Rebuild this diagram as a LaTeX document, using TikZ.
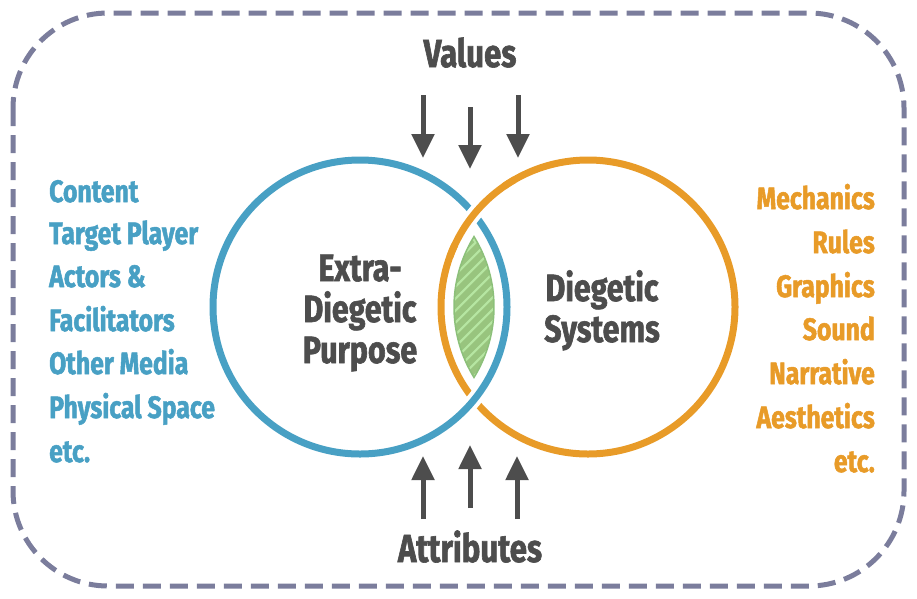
\documentclass[tikz,border=0pt]{standalone}
\usepackage{fontspec}
\setmainfont{Fira Sans}[FakeStretch=0.8, BoldFeatures={FakeBold=1.6}]
\usetikzlibrary{arrows.meta}
\definecolor{cblue}{HTML}{48A0C4}
\definecolor{corange}{HTML}{E89B28}
\definecolor{cgreenL}{HTML}{B6E6A2}
\definecolor{cgreenD}{HTML}{98C47E}
\definecolor{cgreenB}{HTML}{8CC07A}
\definecolor{cgray}{HTML}{4D4D4D}
\definecolor{cdash}{HTML}{7B7D9C}
\newcommand\lenspath{(474,236.6) arc[start angle=31.7,end angle=-31.7,radius=134pt] arc[start angle=211.7,end angle=148.3,radius=134pt] -- cycle}
\tikzset{
  listtxt/.style={font=\fontsize{31}{31}\selectfont\bfseries, inner sep=0pt},
  bigtxt/.style={font=\fontsize{39}{39}\selectfont\bfseries, text=cgray, inner sep=0pt},
  midtxt/.style={font=\fontsize{38}{41}\selectfont\bfseries, text=cgray, inner sep=0pt, align=center},
  ring/.style={line width=7pt},
  blockarrow/.style={draw=cgray, line width=5pt, -{Triangle[width=22pt,length=24pt]}},
}
\begin{document}
\begin{tikzpicture}[x=1pt,y=-1pt]
\useasboundingbox (0,0) rectangle (917,598);
% dashed frame
\draw[cdash, line width=5pt, dash pattern=on 18pt off 9pt, rounded corners=95pt] (13,13) rectangle (904,586);
% lens
\fill[cgreenL] \lenspath;
\begin{scope}
\clip \lenspath;
\foreach \i in {-300,-288,...,300} {
  \draw[cgreenD, line width=6pt] (400+\i,420) -- (580+\i,240);
}
\end{scope}
\draw[cgreenB, line width=1.5pt] \lenspath;
% circles
\draw[ring, corange] (588,307) circle[radius=147pt];
\draw[white, line width=15pt] (360,307) circle[radius=147pt];
\draw[ring, cblue] (360,307) circle[radius=147pt];
\draw[white, line width=15pt] (588,307) ++(125:147pt) arc[start angle=125, end angle=155, radius=147pt];
\draw[ring, corange] (588,307) ++(120:147pt) arc[start angle=120, end angle=160, radius=147pt];
% center texts
\node[midtxt, anchor=base] (extra) at (360,363) {Extra-\\Diegetic\\Purpose};
\node[midtxt, anchor=base] (dieg) at (602,342) {Diegetic\\Systems};
% titles
\node[bigtxt, anchor=base] (values) at (470,67) {Values};
\node[bigtxt, anchor=base] (attr) at (470,562) {Attributes};
% arrows
\coordinate (v1s) at (423,95); \coordinate (v1e) at (423,158);
\coordinate (v2s) at (470,107); \coordinate (v2e) at (470,169);
\coordinate (v3s) at (518,95); \coordinate (v3e) at (518,158);
\draw[blockarrow] (v1s) -- (v1e);
\draw[blockarrow] (v2s) -- (v2e);
\draw[blockarrow] (v3s) -- (v3e);
\coordinate (a1s) at (423,519); \coordinate (a1e) at (423,456);
\coordinate (a2s) at (470,508); \coordinate (a2e) at (470,445);
\coordinate (a3s) at (517,519); \coordinate (a3e) at (517,456);
\draw[blockarrow] (a1s) -- (a1e);
\draw[blockarrow] (a2s) -- (a2e);
\draw[blockarrow] (a3s) -- (a3e);
% left list
\foreach \t/\y [count=\k] in {Content/202, Target Player/244, Actors \&/287, Facilitators/331, Other Media/374, Physical Space/418, etc./462} {
  \node[listtxt, text=cblue, anchor=base west] (L\k) at (49,\y) {\t};
}
% right list
\foreach \t/\y [count=\k] in {Mechanics/209, Rules/253, Graphics/297, Sound/340, Narrative/384, Aesthetics/428, etc./472} {
  \node[listtxt, text=corange, anchor=base east] (R\k) at (875,\y) {\t};
}
\end{tikzpicture}
\end{document}
